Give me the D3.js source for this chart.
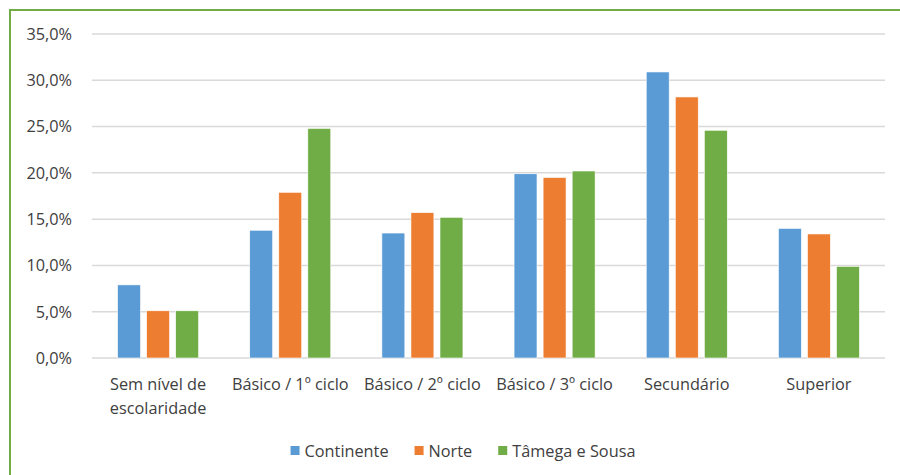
<!DOCTYPE html>
<html>
<head>
<meta charset="utf-8">
<script src="https://cdn.jsdelivr.net/npm/d3@7"></script>
<style>
	body{margin:0;background:#fff;}
	svg{display:block;font-family:"Open Sans", Lato, sans-serif;}
</style>
</head>
<body>
<div id="app"></div>
<script>
const categories = ["Sem nível de|escolaridade", "Básico / 1º ciclo", "Básico / 2º ciclo", "Básico / 3º ciclo", "Secundário", "Superior"];
const series = ["Continente", "Norte", "Tâmega e Sousa"];
const continente = [7.9, 13.8, 13.5, 19.9, 30.9, 14.0];
const norte = [5.1, 17.9, 15.7, 19.5, 28.2, 13.4];
const tamega = [5.1, 24.8, 15.2, 20.2, 24.6, 9.9];
const yTicks = [0, 5, 10, 15, 20, 25, 30, 35];
const colors = ["#5B9BD5", "#ED7D31", "#70AD47"];

const width = 900, height = 475;
const plot = {left: 92, right: 885, top: 34, bottom: 358};
const fs = 16.3;

const values = [continente, norte, tamega];
const rows = categories.map(function(c, i){
	return {cat: c, vals: series.map(function(s, j){ return {s: s, v: values[j][i]}; })};
});

const svg = d3.select("#app").append("svg")
	.attr("width", width).attr("height", height);

svg.append("rect").attr("width", width).attr("height", height).attr("fill", "#fff");

// green frame
svg.append("path")
	.attr("d", "M10," + height + "V10H" + width)
	.attr("fill", "none").attr("stroke", "#70AD47").attr("stroke-width", 2);

const x0 = d3.scaleBand().domain(categories).range([plot.left, plot.right]);
const x1 = d3.scaleBand().domain(series).range([0, x0.bandwidth()])
	.paddingInner(0.21).paddingOuter(0.88);
const y = d3.scaleLinear().domain([0, 35]).range([plot.bottom, plot.top]);

// gridlines
svg.append("g").selectAll("line").data(yTicks).join("line")
	.attr("x1", plot.left).attr("x2", plot.right)
	.attr("y1", function(d){ return y(d); }).attr("y2", function(d){ return y(d); })
	.attr("stroke", "#D9D9D9").attr("stroke-width", 1.5);

// y labels
svg.append("g").selectAll("text").data(yTicks).join("text")
	.attr("x", 72).attr("y", function(d){ return y(d); }).attr("dy", "0.36em")
	.attr("text-anchor", "end").attr("font-size", fs).attr("fill", "#404040")
	.text(function(d){ return d.toFixed(1).replace(".", ",") + "%"; });

// bars
const groups = svg.append("g").selectAll("g").data(rows).join("g")
	.attr("transform", function(d){ return "translate(" + x0(d.cat) + ",0)"; });
groups.selectAll("rect").data(function(d){ return d.vals; }).join("rect")
	.attr("x", function(d){ return x1(d.s); })
	.attr("width", x1.bandwidth())
	.attr("y", function(d){ return y(d.v); })
	.attr("height", function(d){ return y(0) - y(d.v); })
	.attr("fill", function(d, i){ return colors[i]; })
	.attr("stroke", "#fff").attr("stroke-width", 0.6);

// category labels
svg.append("g").selectAll("text").data(categories).join("text")
	.attr("x", function(d){ return x0(d) + x0.bandwidth()/2; })
	.attr("y", 390)
	.attr("text-anchor", "middle").attr("font-size", fs).attr("fill", "#404040")
	.each(function(d){
		const parts = d.split("|");
		d3.select(this).selectAll("tspan").data(parts).join("tspan")
			.attr("x", x0(d) + x0.bandwidth()/2)
			.attr("dy", function(p, i){ return i ? 24 : 0; })
			.text(function(p){ return p; });
	});

// legend
const legend = svg.append("g");
let lx = 0;
series.forEach(function(s, i){
	const g = legend.append("g").attr("transform", "translate(" + lx + ",0)");
	g.append("rect").attr("x", 0).attr("y", -5).attr("width", 9).attr("height", 9).attr("fill", colors[i]);
	const t = g.append("text").attr("x", 14).attr("y", 0).attr("dy", "0.35em")
		.attr("font-size", fs).attr("fill", "#404040").text(s);
	lx += 14 + t.node().getComputedTextLength() + 26;
});
const lw = lx - 26;
legend.attr("transform", "translate(" + (463 - lw/2) + ",451)");
</script>
</body>
</html>
